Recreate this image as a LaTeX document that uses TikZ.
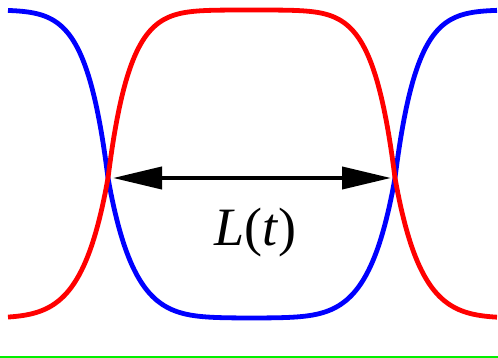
\documentclass[tikz,border=0pt]{standalone}
\usepackage{fontspec}
\setmainfont{Liberation Serif}
\newfontfamily\labelfont{Liberation Serif}
\usetikzlibrary{arrows.meta}
\definecolor{pureblue}{RGB}{0,0,255}
\definecolor{purered}{RGB}{255,0,0}
\definecolor{puregreen}{RGB}{0,240,0}
\tikzset{
  wave/.style={line width=4.8pt, line join=round},
  bluewave/.style={wave, draw=pureblue},
  redwave/.style={wave, draw=purered},
  span/.style={line width=4pt, {Triangle[length=49pt,width=22pt]}-{Triangle[length=49pt,width=22pt]}},
  lbl/.style={font=\labelfont\fontsize{54}{60}\selectfont, inner sep=0pt, anchor=base},
  declare function={
    up(\d)=178-168*(1-exp(-(\d/21+(\d/95)^3)));
    dn(\d)=178+140*(1-exp(-(\d/25+(\d/100)^3)));
  }
}
\begin{document}
\begin{tikzpicture}[x=1pt,y=-1pt]
\useasboundingbox (0,0) rectangle (498,358);
% blue wave
\draw[bluewave]
  plot[domain=8:108,samples=100] (\x,{up(108-\x)})
  -- plot[domain=108:251.5,samples=100] (\x,{dn(\x-108)})
  -- plot[domain=251.5:395,samples=100] (\x,{dn(395-\x)})
  -- plot[domain=395:497,samples=100] (\x,{up(\x-395)});
% red wave
\draw[redwave]
  plot[domain=8:108,samples=100] (\x,{dn(108-\x)})
  -- plot[domain=108:251.5,samples=100] (\x,{up(\x-108)})
  -- plot[domain=251.5:395,samples=100] (\x,{up(395-\x)})
  -- plot[domain=395:497,samples=100] (\x,{dn(\x-395)});
% arrow
\coordinate (a) at (113,178);
\coordinate (b) at (391,178);
\draw[span] (a) -- (b);
\node[lbl] (lab) at (255.5,246) {\textit{L}(\textit{t})};
% green base line
\coordinate (g1) at (0,357);
\coordinate (g2) at (498,357);
\draw[puregreen, line width=2pt] (g1) -- (g2);
\end{tikzpicture}
\end{document}
